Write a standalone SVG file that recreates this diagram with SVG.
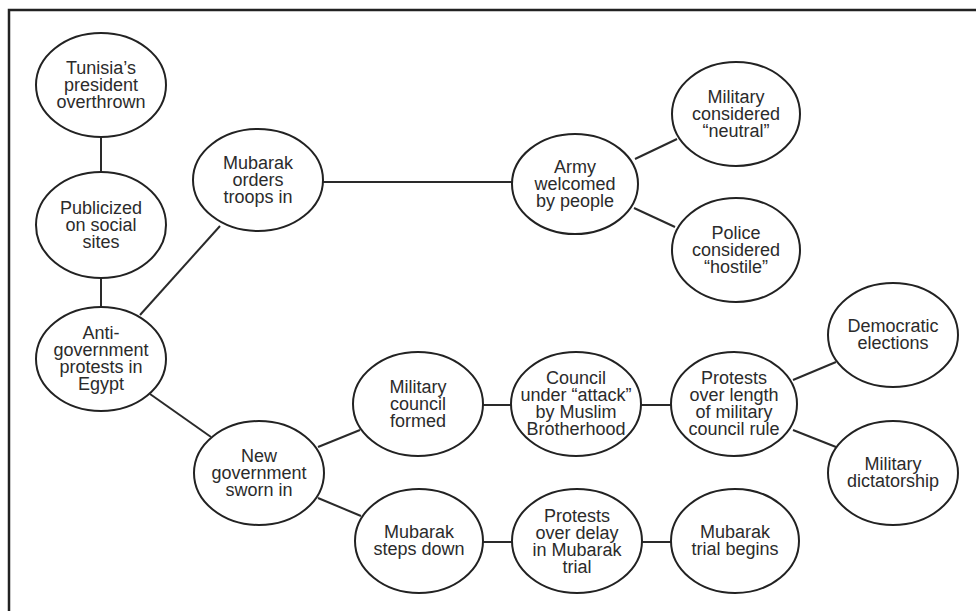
<svg xmlns="http://www.w3.org/2000/svg" width="976" height="611" viewBox="0 0 976 611">
  <style>
    .node ellipse { fill: #ffffff; stroke: #222222; stroke-width: 2; }
    .node text { font-family: "Liberation Sans", Arial, sans-serif; font-size: 18px; fill: #2b2b2b; text-anchor: middle; }
    .edges line { stroke: #2a2a2a; stroke-width: 2; }
    .frame { fill: none; stroke: #222222; stroke-width: 2.5; }
  </style>
  <rect width="976" height="611" fill="#ffffff"/>
  <!-- open frame: top and left rules only -->
  <path class="frame" d="M9 611 V10 H976"/>

  <g class="edges">
    <line x1="101" y1="137" x2="101" y2="172"/>
    <line x1="101" y1="278" x2="101" y2="307"/>
    <line x1="140" y1="315" x2="220" y2="226"/>
    <line x1="323" y1="182" x2="512" y2="182"/>
    <line x1="635" y1="159" x2="677" y2="139"/>
    <line x1="634" y1="208" x2="675" y2="227"/>
    <line x1="150" y1="394" x2="211" y2="437"/>
    <line x1="318" y1="447" x2="360" y2="430"/>
    <line x1="318" y1="498" x2="361" y2="516"/>
    <line x1="483" y1="405" x2="511" y2="405"/>
    <line x1="641" y1="405" x2="671" y2="405"/>
    <line x1="793" y1="380" x2="836" y2="362"/>
    <line x1="793" y1="430" x2="836" y2="447"/>
    <line x1="483" y1="542" x2="513" y2="542"/>
    <line x1="641" y1="542" x2="672" y2="542"/>
  </g>

  <g id="tunisia" class="node">
    <ellipse cx="101" cy="85" rx="65" ry="52"/>
    <text x="101" y="74">Tunisia’s</text>
    <text x="101" y="91">president</text>
    <text x="101" y="108">overthrown</text>
  </g>
  <g id="publicized" class="node">
    <ellipse cx="101" cy="225" rx="65" ry="53"/>
    <text x="101" y="214">Publicized</text>
    <text x="101" y="231">on social</text>
    <text x="101" y="248">sites</text>
  </g>
  <g id="anti-government" class="node">
    <ellipse cx="101" cy="359" rx="65" ry="52"/>
    <text x="101" y="339">Anti-</text>
    <text x="101" y="356">government</text>
    <text x="101" y="373">protests in</text>
    <text x="101" y="390">Egypt</text>
  </g>
  <g id="troops" class="node">
    <ellipse cx="258" cy="180" rx="65" ry="51"/>
    <text x="258" y="169">Mubarak</text>
    <text x="258" y="186">orders</text>
    <text x="258" y="203">troops in</text>
  </g>
  <g id="army" class="node">
    <ellipse cx="575" cy="184" rx="63" ry="50"/>
    <text x="575" y="173">Army</text>
    <text x="575" y="190">welcomed</text>
    <text x="575" y="207">by people</text>
  </g>
  <g id="military-neutral" class="node">
    <ellipse cx="736" cy="114" rx="64" ry="52"/>
    <text x="736" y="103">Military</text>
    <text x="736" y="120">considered</text>
    <text x="736" y="137">“neutral”</text>
  </g>
  <g id="police-hostile" class="node">
    <ellipse cx="736" cy="250" rx="64" ry="52"/>
    <text x="736" y="239">Police</text>
    <text x="736" y="256">considered</text>
    <text x="736" y="273">“hostile”</text>
  </g>
  <g id="new-government" class="node">
    <ellipse cx="259" cy="473" rx="65" ry="52"/>
    <text x="259" y="462">New</text>
    <text x="259" y="479">government</text>
    <text x="259" y="496">sworn in</text>
  </g>
  <g id="military-council" class="node">
    <ellipse cx="418" cy="404" rx="65" ry="52"/>
    <text x="418" y="393">Military</text>
    <text x="418" y="410">council</text>
    <text x="418" y="427">formed</text>
  </g>
  <g id="council-attack" class="node">
    <ellipse cx="576" cy="404" rx="65" ry="52"/>
    <text x="576" y="384">Council</text>
    <text x="576" y="401">under “attack”</text>
    <text x="576" y="418">by Muslim</text>
    <text x="576" y="435">Brotherhood</text>
  </g>
  <g id="protests-length" class="node">
    <ellipse cx="734" cy="404" rx="63" ry="52"/>
    <text x="734" y="384">Protests</text>
    <text x="734" y="401">over length</text>
    <text x="734" y="418">of military</text>
    <text x="734" y="435">council rule</text>
  </g>
  <g id="democratic" class="node">
    <ellipse cx="893" cy="335" rx="65" ry="52"/>
    <text x="893" y="332">Democratic</text>
    <text x="893" y="349">elections</text>
  </g>
  <g id="dictatorship" class="node">
    <ellipse cx="893" cy="473" rx="65" ry="52"/>
    <text x="893" y="470">Military</text>
    <text x="893" y="487">dictatorship</text>
  </g>
  <g id="steps-down" class="node">
    <ellipse cx="419" cy="541" rx="64" ry="52"/>
    <text x="419" y="538">Mubarak</text>
    <text x="419" y="555">steps down</text>
  </g>
  <g id="protests-delay" class="node">
    <ellipse cx="577" cy="541" rx="65" ry="52"/>
    <text x="577" y="522">Protests</text>
    <text x="577" y="539">over delay</text>
    <text x="577" y="556">in Mubarak</text>
    <text x="577" y="573">trial</text>
  </g>
  <g id="trial-begins" class="node">
    <ellipse cx="735" cy="541" rx="64" ry="52"/>
    <text x="735" y="538">Mubarak</text>
    <text x="735" y="555">trial begins</text>
  </g>
</svg>
